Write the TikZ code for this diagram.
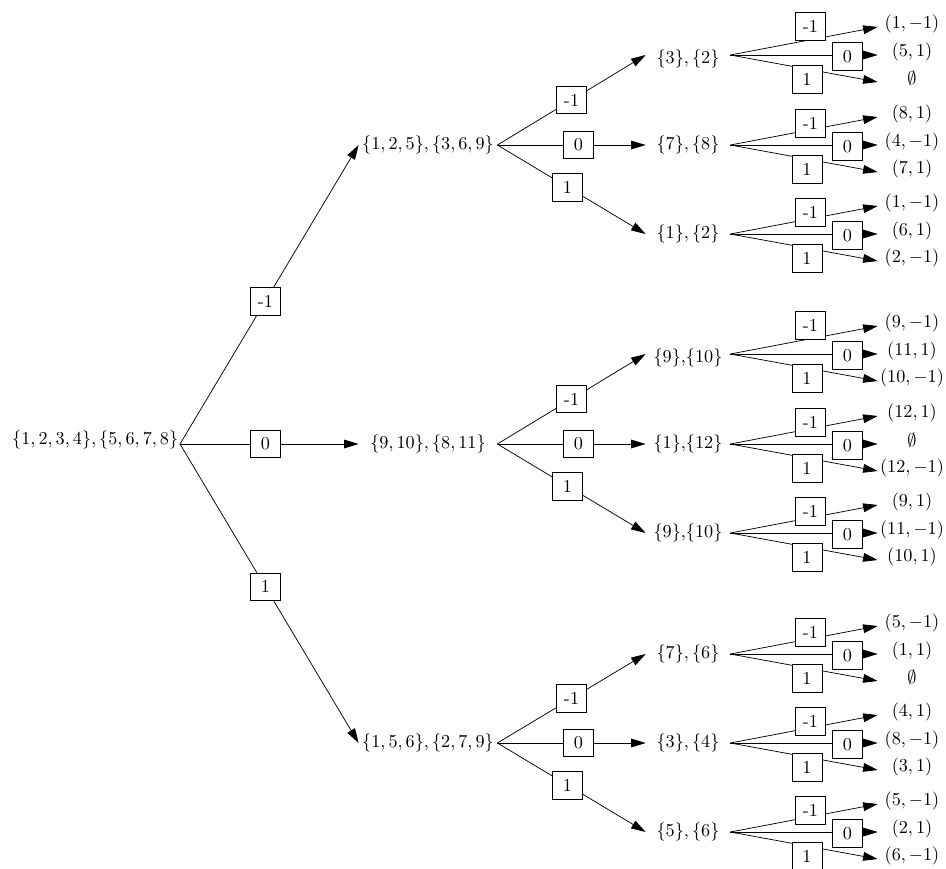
\documentclass[tikz,border=0pt]{standalone}
\usetikzlibrary{arrows.meta}
\newcommand{\mkgrp}[8]{%
  \node[ltwo,#3] (#1) at (688,#2) {#4};
  \node[leaf] (#1a) at (912,#2-28) {#5};
  \node[leaf] (#1b) at (912,#2) {#6};
  \node[leaf] (#1c) at (912,#2+27) {#7};
  \draw[arr] (#1.east) -- (#1a.west);
  \draw[arr] (#1.east) -- (#1b.west);
  \draw[arr] (#1.east) -- (#1c.west);
  \node[lab] (#1la) at (810.5,#2-21.5-#8) {-1};
  \node[lab] (#1lb) at (847.5,#2+1.5) {0};
  \node[lab] (#1lc) at (807,#2+24.5) {1};
}
\newcommand{\es}{\raisebox{-1pt}{$\emptyset$}}
\begin{document}
\begin{tikzpicture}[x=0.549pt,y=-0.549pt,
  arr/.style={-{Triangle[length=8pt,width=4.8pt]}, line width=0.4pt},
  lab/.style={draw, fill=white, minimum width=16.4pt, minimum height=15.2pt, inner sep=0pt},
  lone/.style={minimum width=75.8pt, inner sep=0pt},
  ltwo/.style={minimum width=46.1pt, inner sep=0pt},
  ltwolow/.style={text height=11.3pt, text depth=2.5pt},
  plain/.style={},
  leaf/.style={minimum width=37.3pt, inner sep=0pt, text height=7.5pt, text depth=6.3pt}]
\useasboundingbox (0,0) rectangle (946,868);

% root
\node[inner sep=0.8pt, anchor=east, text height=7.5pt, text depth=7.3pt] (root) at (180,444) {$\{1,2,3,4\},\{5,6,7,8\}$};

% level 1
\node[lone] (a1) at (428,145) {$\{1,2,5\},\{3,6,9\}$};
\node[lone] (a2) at (428,444) {$\{9,10\},\{8,11\}$};
\node[lone] (a3) at (428,743) {$\{1,5,6\},\{2,7,9\}$};

% level 2 with leaves
\mkgrp{b11}{55}{ltwolow}{$\{3\},\{2\}$}{$(1,-1)$}{$(5,1)$}{\es}{7}
\mkgrp{b12}{145}{plain}{$\{7\},\{8\}$}{$(8,1)$}{$(4,-1)$}{$(7,1)$}{0}
\mkgrp{b13}{234}{plain}{$\{1\},\{2\}$}{$(1,-1)$}{$(6,1)$}{$(2,-1)$}{0}
\mkgrp{b21}{354}{ltwolow}{$\{9\}$,$\{10\}$}{$(9,-1)$}{$(11,1)$}{$(10,-1)$}{7}
\mkgrp{b22}{444}{plain}{$\{1\}$,$\{12\}$}{$(12,1)$}{\es}{$(12,-1)$}{0}
\mkgrp{b23}{533}{plain}{$\{9\}$,$\{10\}$}{$(9,1)$}{$(11,-1)$}{$(10,1)$}{0}
\mkgrp{b31}{654}{plain}{$\{7\},\{6\}$}{$(5,-1)$}{$(1,1)$}{\es}{0}
\mkgrp{b32}{743}{plain}{$\{3\},\{4\}$}{$(4,1)$}{$(8,-1)$}{$(3,1)$}{0}
\mkgrp{b33}{832}{plain}{$\{5\},\{6\}$}{$(5,-1)$}{$(2,1)$}{$(6,-1)$}{0}

% root -> level 1
\draw[arr] (root.east) -- node[lab,pos=0.478] (r1) {-1} (a1.west);
\draw[arr] (root.east) -- node[lab,pos=0.478] (r2) {0} (a2.west);
\draw[arr] (root.east) -- node[lab,pos=0.478] (r3) {1} (a3.west);

% level 1 -> level 2
\foreach \i in {1,2,3}{
  \draw[arr] (a\i.east) -- node[lab,pos=0.5] (a\i l1) {-1} (b\i1.west);
  \draw[arr] (a\i.east) -- node[lab,pos=0.547] (a\i l2) {0} (b\i2.west);
  \draw[arr] (a\i.east) -- node[lab,pos=0.473] (a\i l3) {1} (b\i3.west);
}
\end{tikzpicture}
\end{document}
